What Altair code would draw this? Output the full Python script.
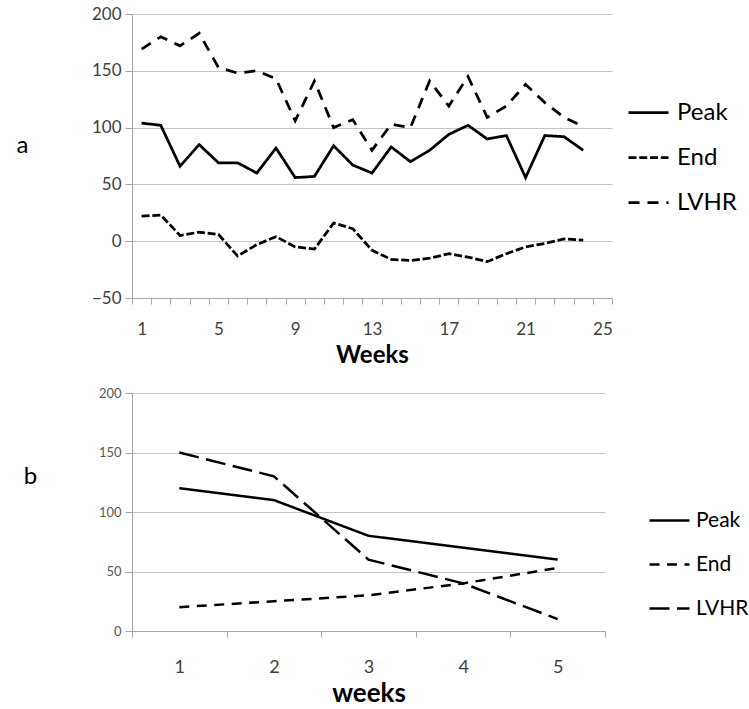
import altair as alt
import pandas as pd

FONT = "Lato"
series = ["Peak", "End", "LVHR"]

# Panel a data (weekly)
weeks_a = list(range(1, 25))
peak_a = [104, 102, 66, 85, 69, 69, 60, 82, 56, 57, 84, 67, 60, 83, 70, 80, 94, 102, 90, 93, 56, 93, 92, 80]
end_a = [22, 23, 5, 8, 6, -13, -3, 4, -5, -7, 16, 11, -8, -16, -17, -15, -11, -14, -18, -11, -5, -2, 2, 1]
lvhr_a = [169, 180, 172, 183, 153, 148, 150, 143, 106, 141, 100, 107, 80, 103, 100, 141, 119, 145, 109, 119, 138, 122, 109, 101]

# Panel b data
weeks_b = [1, 2, 3, 4, 5]
peak_b = [120, 110, 80, 70, 60]
end_b = [20, 25, 30, 40, 53]
lvhr_b = [150, 130, 60, 40, 10]

y_ticks_a = [-50, 0, 50, 100, 150, 200]
y_ticks_b = [0, 50, 100, 150, 200]


def to_long(weeks, p, e, l):
    rows = []
    for name, vals in zip(series, [p, e, l]):
        for w, v in zip(weeks, vals):
            rows.append({"week": w, "value": v, "series": name})
    return pd.DataFrame(rows)


df_a = to_long(weeks_a, peak_a, end_a, lvhr_a)
df_b = to_long(weeks_b, peak_b, end_b, lvhr_b)

AXIS_GRAY = "#a6a6a6"
GRID_GRAY = "#c4c4c4"


def panel(df, n_cat, y_dom, y_vals, width, height, lw, dashes, letter, letter_x, letter_y,
          xlabel, xlabel_size, tick_label_size, ytick_label_size, ytick_color, label_every,
          label_pad, title_pad, legend_x, legend_y, legend_font, row_pad, label_off):
    xs = alt.Scale(domain=[0.5, n_cat + 0.5], nice=False, zero=False)
    ys = alt.Scale(domain=y_dom, nice=False, zero=False)
    lines = alt.Chart(df).mark_line(color="black", strokeWidth=lw, strokeCap="butt").encode(
        x=alt.X("week:Q", scale=xs,
                axis=alt.Axis(values=[i + 0.5 for i in range(n_cat + 1)], labels=False,
                              grid=False, ticks=True, tickSize=6, tickColor=AXIS_GRAY,
                              domain=True, domainColor=AXIS_GRAY, title=None, orient="bottom")),
        y=alt.Y("value:Q", scale=ys,
                axis=alt.Axis(values=y_vals, grid=True, gridColor=GRID_GRAY, tickSize=7,
                              tickColor=AXIS_GRAY, domainColor=AXIS_GRAY,
                              labelFontSize=ytick_label_size, labelColor=ytick_color,
                              labelFont=FONT, labelPadding=4,
                              title=letter, titleAngle=0, titleX=letter_x, titleY=letter_y,
                              titleAlign="center", titleBaseline="middle",
                              titleFontSize=24, titleFontWeight="normal", titleFont=FONT,
                              titleColor="black")),
        strokeDash=alt.StrokeDash("series:N",
                                  scale=alt.Scale(domain=series, range=dashes),
                                  sort=series,
                                  legend=alt.Legend(orient="none", legendX=legend_x, legendY=legend_y,
                                                    title=None, symbolType="stroke", symbolSize=1600,
                                                    symbolStrokeWidth=lw, symbolStrokeColor="black",
                                                    labelFontSize=legend_font, labelFont=FONT,
                                                    labelColor="black", rowPadding=row_pad,
                                                    labelOffset=label_off, padding=0)),
    )
    labels = alt.Chart(df).mark_line(opacity=0).encode(
        x=alt.X("week:Q", scale=xs,
                axis=alt.Axis(values=list(range(1, n_cat + 1)),
                              labelExpr=f"(datum.value - 1) % {label_every} == 0 ? datum.label : ''",
                              ticks=False, tickSize=0, domain=False, grid=False,
                              labelPadding=label_pad, labelFontSize=tick_label_size,
                              labelColor="#404040", labelFont=FONT,
                              title=xlabel, titleFontSize=xlabel_size, titleFontWeight="bold",
                              titleFont=FONT, titleColor="black", titlePadding=title_pad,
                              orient="bottom")),
    )
    return alt.layer(lines, labels).resolve_axis(x="independent").properties(width=width, height=height)


chart_a = panel(df_a, 25, [-50, 200], y_ticks_a, 480, 284, 2.75,
                [[1, 0], [8, 2.75], [11, 8]], "a", -110, 131,
                "Weeks", 24, 17, 17, "#404040", 4, 23, 6, 495, 77, 24, 11, 7)
chart_b = panel(df_b, 5, [0, 200], y_ticks_b, 473, 238, 2.5,
                [[1, 0], [10, 7.5], [20, 7.5]], "b", -102, 83,
                "weeks", 26, 18, 13, "#595959", 1, 27, 4, 516, 106, 21, 12, 5)

chart = alt.vconcat(chart_a, chart_b, spacing=20).resolve_scale(
    x="independent", y="independent", strokeDash="independent"
).resolve_legend(strokeDash="independent").configure_view(stroke=None).properties(
    padding={"left": 16, "top": 5, "right": 0, "bottom": 0}
)

chart.save("out.html", embed_options={"renderer": "svg", "actions": False})
